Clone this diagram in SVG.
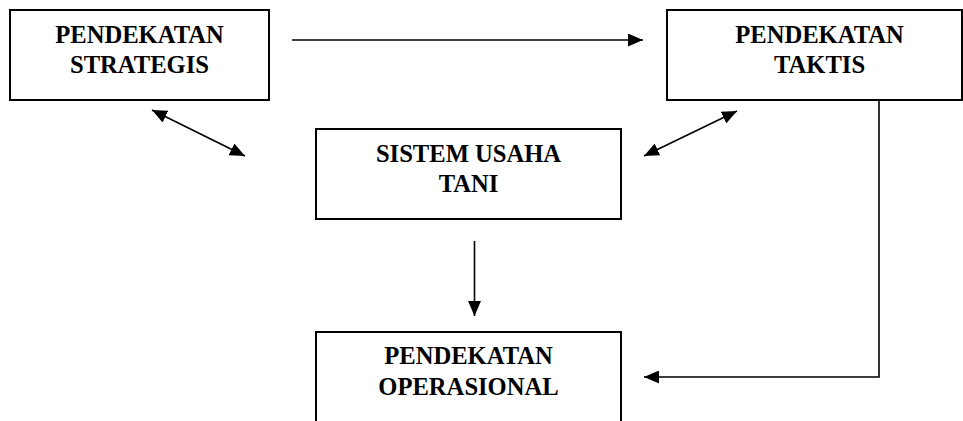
<svg xmlns="http://www.w3.org/2000/svg" width="963" height="421" viewBox="0 0 963 421">
<style>
  .box { fill: #ffffff; stroke: #000000; stroke-width: 2; }
  .lbl { font-family: "Liberation Serif", "Times New Roman", serif; font-weight: bold; font-size: 24.6px; fill: #000000; text-anchor: middle; }
  .conn { fill: none; stroke: #000000; stroke-width: 1.6; }
</style>
<defs>
  <marker id="ah" viewBox="0 0 15 13" refX="15" refY="6.5" markerWidth="15" markerHeight="13" markerUnits="userSpaceOnUse" orient="auto-start-reverse">
    <path d="M0,0 L15,6.5 L0,13 Z" fill="#000000"/>
  </marker>
</defs>
<rect width="963" height="421" fill="#ffffff"/>
<g id="strategis">
  <rect class="box" x="10" y="10" width="259" height="90"/>
  <text class="lbl" x="139.5" y="42.7">PENDEKATAN</text>
  <text class="lbl" x="139.5" y="73">STRATEGIS</text>
</g>
<g id="taktis">
  <rect class="box" x="667" y="10" width="295" height="90"/>
  <text class="lbl" x="819.5" y="43">PENDEKATAN</text>
  <text class="lbl" x="819.5" y="73">TAKTIS</text>
</g>
<g id="usahatani">
  <rect class="box" x="316" y="129" width="305" height="90"/>
  <text class="lbl" x="468.5" y="162">SISTEM USAHA</text>
  <text class="lbl" x="468.5" y="192">TANI</text>
</g>
<g id="operasional">
  <path class="box" d="M316,425 L316,332 L621,332 L621,425"/>
  <text class="lbl" x="468.5" y="364">PENDEKATAN</text>
  <text class="lbl" x="468.5" y="395">OPERASIONAL</text>
</g>
<g id="connectors">
  <line class="conn" x1="292" y1="40" x2="643" y2="40" marker-end="url(#ah)"/>
  <line class="conn" x1="152" y1="110" x2="245" y2="156" marker-start="url(#ah)" marker-end="url(#ah)"/>
  <line class="conn" x1="737" y1="111" x2="644" y2="156" marker-start="url(#ah)" marker-end="url(#ah)"/>
  <line class="conn" x1="474.5" y1="241" x2="474.5" y2="316" marker-end="url(#ah)"/>
  <polyline class="conn" points="879,100 879,377 644,377" marker-end="url(#ah)"/>
</g>
</svg>
